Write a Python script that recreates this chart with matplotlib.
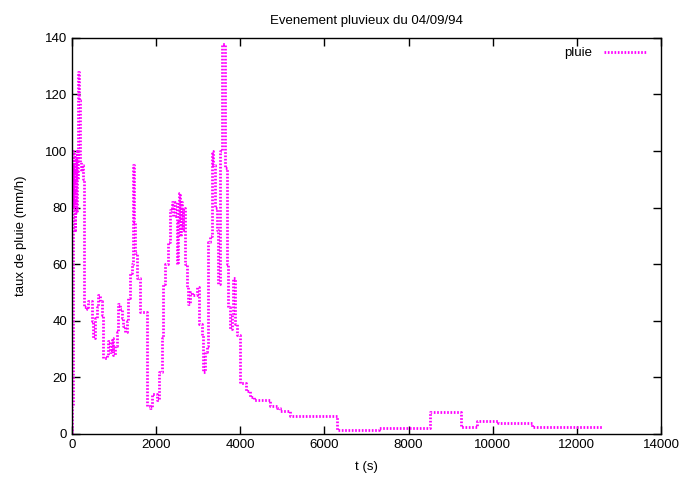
import matplotlib
matplotlib.use("Agg")
from matplotlib import pyplot as plt

plt.rcParams['font.family'] = ['Liberation Sans', 'DejaVu Sans']

# rain rate (step data, time in s, rate in mm/h)
t = [0, 8, 16, 24, 32, 45, 55, 65, 80, 95, 110, 125, 135, 150, 175, 195, 215, 240, 260,
     285, 349, 388, 428, 467, 507, 547, 586, 626, 666, 705, 745, 824, 864, 903, 943, 983,
     1022, 1062, 1101, 1141, 1180, 1220, 1260, 1299, 1339, 1378, 1418, 1442, 1474, 1497,
     1537, 1616, 1791, 1854, 1894, 2013, 2077, 2132, 2172, 2211, 2251, 2291, 2330, 2370,
     2410, 2449, 2489, 2512, 2544, 2568, 2592, 2615, 2647, 2687, 2726, 2766, 2806, 2845,
     2964, 3028, 3083, 3123, 3162, 3202, 3242, 3281, 3321, 3361, 3400, 3440, 3480, 3519,
     3559, 3638, 3678, 3717, 3757, 3797, 3836, 3876, 3916, 3995, 4136, 4231, 4326, 4706,
     4873, 4944, 5182, 6299, 7300, 8510, 9239, 9619, 10134, 10927, 12614]
pluie = [0, 10, 33, 60, 100, 80, 95, 72, 98, 78, 100, 90, 110, 128, 118, 96, 93, 95, 90,
         45, 44, 47, 47, 40, 34, 41, 45, 49, 47, 42, 27, 28, 33, 29, 34, 28,
         31, 36, 46, 44, 41, 38, 36, 40, 48, 57, 60, 95, 75, 64,
         55, 43, 10, 9, 14, 12, 22, 34, 53, 60, 60, 68, 79, 82,
         77, 82, 60, 75, 85, 70, 82, 72, 80, 60, 52, 46, 50, 49,
         52, 39, 35, 22, 29, 31, 68, 70, 100, 95, 80, 72, 53, 100,
         138, 94, 60, 45, 37, 42, 55, 39, 35, 18, 15, 13, 12, 10,
         9, 8, 6.5, 1.5, 2.0, 7.7, 2.6, 4.4, 3.8, 2.4, 2.4]

x_ticks = list(range(0, 14001, 2000))
y_ticks = list(range(0, 141, 20))

fig = plt.figure(figsize=(6.85, 4.8), dpi=100)
ax = fig.add_axes([0.105, 0.096, 0.86, 0.825])

ax.plot(t, pluie, drawstyle='steps-post', color='#ff00ff', linewidth=2,
        linestyle=(0, (0.6, 0.6)), label='pluie')

ax.set_xlim(0, 14000)
ax.set_ylim(0, 140)
ax.set_xticks(x_ticks)
ax.set_yticks(y_ticks)
ax.tick_params(direction='in', top=True, right=True, length=6, width=1, labelsize=9.5)
for s in ax.spines.values():
    s.set_linewidth(1)

ax.set_title('Evenement pluvieux du 04/09/94', fontsize=9.5, pad=10)
ax.set_xlabel('t (s)', fontsize=9.5, labelpad=7)
ax.set_ylabel('taux de pluie (mm/h)', fontsize=9.5, labelpad=13)

ax.legend(loc='upper right', bbox_to_anchor=(0.99, 1.0), frameon=False,
          markerfirst=False, handlelength=3.2, handletextpad=0.9, fontsize=9.5,
          borderaxespad=0.3)

fig.savefig('out.png', dpi=100)
